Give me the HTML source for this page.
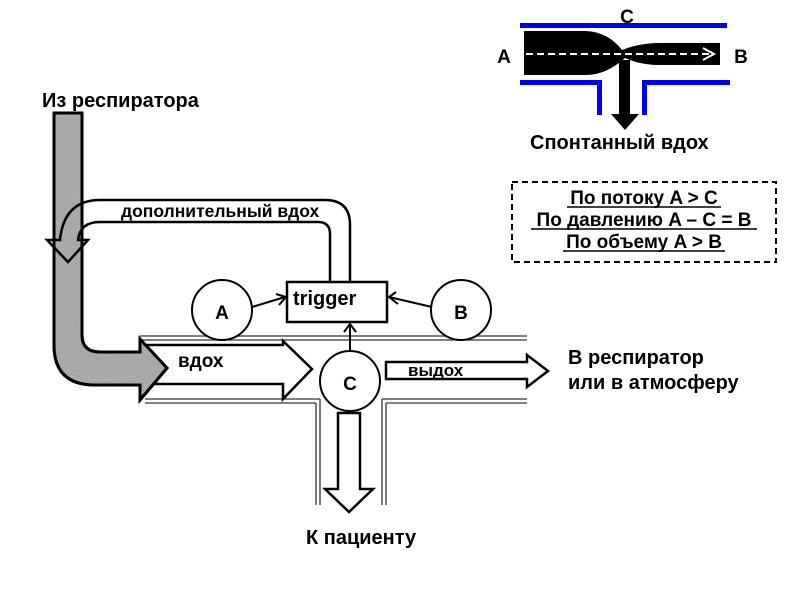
<!DOCTYPE html>
<html><head><meta charset="utf-8"><style>
html,body{margin:0;padding:0;background:#fff;}
svg{display:block;}
text{font-family:"Liberation Sans",sans-serif;font-weight:bold;fill:#000;}
</style></head><body>
<svg width="800" height="600" viewBox="0 0 800 600" xmlns="http://www.w3.org/2000/svg">
<defs>
<filter id="noise" x="0" y="0" width="100%" height="100%">
<feTurbulence type="fractalNoise" baseFrequency="0.9" numOctaves="2" seed="3" result="n"/>
<feColorMatrix type="matrix" values="0 0 0 0 0.45  0 0 0 0 0.45  0 0 0 0 0.45  0 0 0 -2 1.6" in="n" result="c"/>
<feComposite in="c" in2="SourceGraphic" operator="in"/>
</filter>
</defs>

<!-- tube walls -->
<g stroke="#333" stroke-width="1.3" fill="none">
<line x1="140" y1="336" x2="527" y2="336"/><line x1="140" y1="340" x2="527" y2="340"/>
<line x1="145" y1="399" x2="320" y2="399"/><line x1="145" y1="403" x2="316" y2="403"/>
<line x1="382" y1="399" x2="527" y2="399"/><line x1="386" y1="403" x2="527" y2="403"/>
<line x1="316" y1="403" x2="316" y2="505"/><line x1="320" y1="399" x2="320" y2="505"/>
<line x1="382" y1="399" x2="382" y2="505"/><line x1="386" y1="403" x2="386" y2="505"/>
</g>

<!-- inhale arrow -->
<path d="M140 345 L283 345 L283 341 L312 369 L283 399 L283 384 L140 384 Z" fill="#fff" stroke="#000" stroke-width="2.5"/>

<!-- gray pipe -->
<path d="M54 113 L82 113 L82 335 Q82 352 100 352 L140 352 L140 339 L167 368 L140 400 L140 385 L95 385 Q54 385 54 345 Z" fill="#999" stroke="#000" stroke-width="3"/>
<path d="M54 113 L82 113 L82 335 Q82 352 100 352 L140 352 L140 339 L167 368 L140 400 L140 385 L95 385 Q54 385 54 345 Z" fill="#bbb" filter="url(#noise)"/>
<path d="M54 113 L82 113 L82 335 Q82 352 100 352 L140 352 L140 339 L167 368 L140 400 L140 385 L95 385 Q54 385 54 345 Z" fill="none" stroke="#000" stroke-width="3"/>

<!-- additional breath loop -->
<path d="M350 282 L350 225 Q350 200 325 200 L100 200 Q64 200 60 240 L47 240 L68 262 L88 240 L78 240 Q80 222 100 222 L318 222 Q330 222 330 234 L330 282" fill="none" stroke="#000" stroke-width="2.5"/>

<!-- trigger -->
<rect x="287" y="282" width="100" height="40" fill="#fff" stroke="#000" stroke-width="2.5"/>
<text x="293" y="305" font-size="20">trigger</text>

<!-- circles -->
<g fill="#fff" stroke="#000" stroke-width="2">
<circle cx="222" cy="310" r="30"/><circle cx="461" cy="310" r="30"/><circle cx="350" cy="381" r="30"/>
</g>
<text x="222" y="319" font-size="19" text-anchor="middle">A</text>
<text x="461" y="319" font-size="19" text-anchor="middle">B</text>
<text x="350" y="390" font-size="19" text-anchor="middle">C</text>

<!-- small arrows -->
<g stroke="#000" stroke-width="2" fill="none">
<line x1="252" y1="307" x2="285" y2="297"/><polyline points="276,294 286,297 279,305"/>
<line x1="432" y1="307" x2="389" y2="297"/><polyline points="396,292 389,297 398,304"/>
<line x1="350" y1="350" x2="350" y2="324"/><polyline points="344,332 350,324 356,332"/>
</g>

<!-- exhale arrow -->
<path d="M386 362 L527 362 L527 355 L548 371 L527 387 L527 379 L386 379 Z" fill="#fff" stroke="#000" stroke-width="2.5"/>
<text x="408" y="376" font-size="17">выдох</text>

<!-- patient arrow -->
<path d="M338 413 L360 413 L360 489 L373 489 L349 512 L325 489 L338 489 Z" fill="#fff" stroke="#000" stroke-width="2.5"/>

<text x="178" y="367" font-size="19">вдох</text>
<text x="121" y="217" font-size="17.5">дополнительный вдох</text>
<text x="42" y="107" font-size="20">Из респиратора</text>
<text x="306" y="544" font-size="20">К пациенту</text>
<text x="568" y="364" font-size="20">В респиратор</text>
<text x="568" y="389" font-size="20">или в атмосферу</text>

<!-- dashed box -->
<rect x="512" y="182" width="264" height="80" fill="none" stroke="#000" stroke-width="2" stroke-dasharray="6,4"/>
<g font-size="19" text-anchor="middle">
<text x="644" y="204">По потоку A &gt; C</text>
<text x="644" y="226">По давлению A – C = B</text>
<text x="644" y="248">По объему A &gt; B</text>
</g>
<g stroke="#000" stroke-width="1.5">
<line x1="567" y1="207" x2="721" y2="207"/>
<line x1="531" y1="229" x2="757" y2="229"/>
<line x1="563" y1="251" x2="725" y2="251"/>
</g>

<!-- top-right venturi -->
<g fill="#0000ee">
<rect x="520" y="23" width="207" height="5"/>
<rect x="520" y="80" width="81" height="5"/><rect x="597" y="80" width="5" height="35"/>
<rect x="642" y="80" width="88" height="5"/><rect x="642" y="80" width="5" height="35"/>
</g>
<path d="M524 31 L586 31 Q608 32 622 50 Q640 43 660 43 L720 43 L720 65 L660 65 Q640 65 625 58 Q606 75 586 75 L524 75 Z" fill="#000"/>
<rect x="619" y="60" width="11" height="55" fill="#000"/>
<path d="M611 114 L639 114 L625 130 Z" fill="#000"/>
<line x1="526" y1="54" x2="712" y2="54" stroke="#fff" stroke-width="2" stroke-dasharray="7,4"/>
<polyline points="703,48 714,54 703,60" fill="none" stroke="#fff" stroke-width="2"/>
<text x="504" y="63" font-size="19" text-anchor="middle" font-weight="normal">A</text>
<text x="741" y="63" font-size="19" text-anchor="middle" font-weight="normal">B</text>
<text x="627" y="23" font-size="19" text-anchor="middle" font-weight="normal">C</text>
<text x="530" y="149" font-size="20">Спонтанный вдох</text>
</svg>
</body></html>
